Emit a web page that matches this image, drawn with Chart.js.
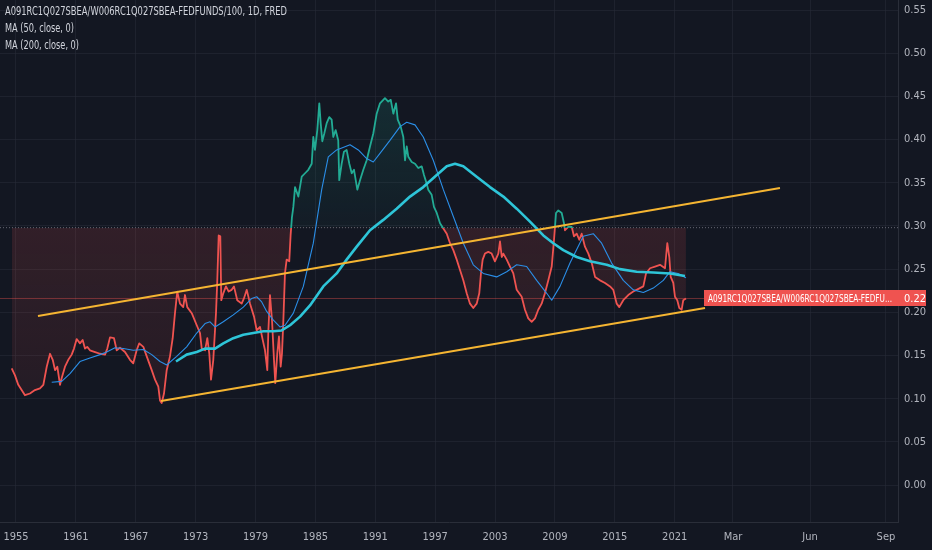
<!DOCTYPE html>
<html><head><meta charset="utf-8">
<script src="https://cdn.jsdelivr.net/npm/chart.js@4.4.1/dist/chart.umd.min.js"></script>
<style>
html,body{margin:0;padding:0;background:#131722;overflow:hidden;}
canvas{display:block;}
</style></head><body>
<canvas id="c" width="932" height="550"></canvas>
<script>
// ---------- DATA ----------
const seriesTitle = "A091RC1Q027SBEA/W006RC1Q027SBEA-FEDFUNDS/100, 1D, FRED";
const maTitles = ["MA (50, close, 0)", "MA (200, close, 0)"];

const priceYears = [1954.57,1954.90,1955.23,1955.90,1956.40,1956.90,1957.40,1957.74,1958.08,1958.41,1958.68,1958.91,1959.14,1959.41,1959.58,1959.91,1960.24,1960.58,1960.81,1961.08,1961.41,1961.68,1961.91,1962.14,1962.41,1962.92,1963.42,1963.92,1964.15,1964.42,1964.82,1965.09,1965.42,1965.92,1966.42,1966.75,1967.09,1967.35,1967.76,1968.10,1968.60,1968.93,1969.26,1969.43,1969.60,1969.83,1970.10,1970.43,1970.70,1970.93,1971.16,1971.43,1971.76,1971.93,1972.16,1972.61,1973.11,1973.44,1973.61,1973.94,1974.17,1974.37,1974.54,1974.77,1975.04,1975.17,1975.31,1975.47,1975.57,1975.77,1976.04,1976.31,1976.61,1976.84,1977.17,1977.61,1977.84,1978.12,1978.45,1978.85,1979.12,1979.45,1979.72,1979.95,1980.18,1980.28,1980.45,1980.65,1980.85,1980.98,1981.18,1981.35,1981.52,1981.65,1981.78,1981.95,1982.12,1982.38,1982.52,1982.65,1982.79,1982.96,1983.29,1983.63,1983.96,1984.29,1984.63,1984.79,1984.96,1985.19,1985.39,1985.53,1985.69,1985.89,1986.13,1986.39,1986.63,1986.79,1987.03,1987.29,1987.39,1987.63,1987.86,1988.13,1988.40,1988.64,1988.87,1989.20,1989.47,1989.80,1990.14,1990.47,1990.80,1991.14,1991.47,1991.97,1992.30,1992.55,1992.81,1993.08,1993.25,1993.55,1993.81,1993.98,1994.15,1994.31,1994.65,1994.98,1995.31,1995.65,1995.88,1996.15,1996.31,1996.65,1996.88,1997.16,1997.49,1997.82,1998.16,1998.49,1998.82,1999.16,1999.49,1999.82,2000.16,2000.49,2000.82,2001.16,2001.42,2001.59,2001.76,2001.99,2002.32,2002.66,2002.99,2003.33,2003.50,2003.67,2003.83,2004.17,2004.50,2004.83,2005.17,2005.67,2006.00,2006.33,2006.67,2007.00,2007.33,2007.67,2008.00,2008.34,2008.68,2008.91,2009.11,2009.34,2009.68,2009.91,2010.01,2010.34,2010.68,2010.91,2011.18,2011.44,2011.68,2012.01,2012.35,2012.69,2013.02,2013.52,2014.02,2014.52,2014.85,2015.19,2015.45,2015.85,2016.35,2016.85,2017.52,2017.86,2018.13,2018.53,2019.03,2019.53,2020.03,2020.26,2020.46,2020.60,2020.86,2021.03,2021.26,2021.46,2021.70,2021.86,2022.13];
const priceValues = [0.135,0.127,0.116,0.104,0.106,0.110,0.112,0.116,0.137,0.152,0.145,0.133,0.137,0.116,0.124,0.137,0.145,0.151,0.158,0.169,0.164,0.168,0.158,0.160,0.156,0.154,0.152,0.151,0.158,0.171,0.170,0.156,0.159,0.154,0.145,0.141,0.156,0.164,0.160,0.149,0.133,0.122,0.114,0.098,0.095,0.106,0.133,0.149,0.170,0.199,0.224,0.210,0.206,0.220,0.206,0.199,0.185,0.176,0.158,0.156,0.170,0.152,0.122,0.145,0.199,0.237,0.289,0.288,0.214,0.222,0.230,0.224,0.226,0.230,0.214,0.210,0.216,0.226,0.210,0.195,0.179,0.183,0.168,0.156,0.133,0.176,0.220,0.191,0.145,0.118,0.152,0.172,0.137,0.152,0.187,0.245,0.261,0.259,0.290,0.310,0.322,0.345,0.334,0.357,0.361,0.365,0.372,0.403,0.388,0.411,0.442,0.419,0.398,0.407,0.419,0.426,0.423,0.403,0.411,0.399,0.353,0.372,0.386,0.388,0.372,0.361,0.365,0.342,0.353,0.365,0.376,0.392,0.407,0.430,0.442,0.448,0.444,0.446,0.430,0.442,0.423,0.415,0.403,0.376,0.392,0.380,0.374,0.372,0.367,0.369,0.359,0.349,0.342,0.336,0.322,0.315,0.303,0.297,0.291,0.280,0.272,0.261,0.249,0.237,0.222,0.210,0.205,0.210,0.222,0.245,0.261,0.268,0.270,0.268,0.259,0.268,0.282,0.264,0.268,0.261,0.253,0.245,0.226,0.218,0.203,0.193,0.189,0.193,0.203,0.210,0.222,0.237,0.253,0.284,0.315,0.318,0.315,0.303,0.295,0.299,0.299,0.288,0.291,0.284,0.291,0.276,0.268,0.257,0.241,0.237,0.234,0.230,0.226,0.210,0.206,0.214,0.220,0.224,0.228,0.230,0.245,0.251,0.253,0.255,0.251,0.280,0.264,0.241,0.234,0.218,0.214,0.205,0.203,0.214,0.216];

const ma50Years = [1958.58,1959.58,1960.41,1961.41,1962.41,1963.42,1964.09,1964.92,1965.75,1966.75,1967.76,1968.60,1969.43,1970.10,1971.10,1972.10,1973.11,1973.94,1974.44,1974.94,1975.77,1976.77,1977.78,1978.62,1979.12,1979.62,1980.12,1980.79,1981.45,1981.96,1982.79,1983.79,1984.79,1985.63,1986.29,1987.13,1988.47,1989.30,1990.14,1990.80,1991.47,1992.47,1993.48,1994.15,1994.98,1995.81,1996.81,1997.82,1998.82,1999.82,2000.82,2001.82,2003.16,2004.17,2005.17,2006.17,2007.17,2008.18,2008.68,2009.51,2010.51,2011.84,2012.84,2013.68,2014.68,2015.85,2016.85,2017.86,2018.86,2019.86,2020.53,2021.33,2022.13];
const ma50Values = [0.119,0.120,0.129,0.143,0.147,0.151,0.154,0.159,0.158,0.156,0.157,0.151,0.143,0.139,0.149,0.160,0.176,0.187,0.189,0.183,0.189,0.197,0.206,0.216,0.218,0.212,0.201,0.191,0.183,0.185,0.199,0.230,0.280,0.342,0.380,0.388,0.394,0.388,0.378,0.374,0.384,0.399,0.415,0.420,0.417,0.403,0.376,0.342,0.311,0.280,0.255,0.245,0.241,0.247,0.255,0.253,0.237,0.222,0.214,0.230,0.257,0.288,0.291,0.280,0.257,0.237,0.226,0.223,0.228,0.237,0.247,0.245,0.240];

const ma200Years = [1971.03,1972.10,1973.11,1973.94,1974.94,1975.77,1976.77,1977.78,1978.78,1979.78,1980.79,1981.62,1982.46,1983.46,1984.46,1985.79,1987.13,1988.13,1989.14,1990.47,1991.80,1993.14,1994.48,1995.81,1997.16,1998.16,1998.99,1999.82,2001.16,2002.49,2003.83,2005.17,2006.50,2007.84,2008.84,2009.84,2011.18,2012.52,2014.19,2015.52,2017.19,2018.86,2020.53,2022.03];
const ma200Values = [0.143,0.151,0.154,0.158,0.158,0.164,0.170,0.174,0.176,0.178,0.178,0.179,0.185,0.195,0.208,0.230,0.245,0.261,0.276,0.295,0.307,0.320,0.334,0.345,0.359,0.369,0.372,0.369,0.357,0.345,0.334,0.320,0.305,0.289,0.280,0.272,0.264,0.259,0.255,0.250,0.247,0.246,0.245,0.242];

const upperTrendYears = [1957.20, 2031.55];
const upperTrendValues = [0.1957, 0.3440];
const lowerTrendYears = [1969.53, 2024.04];
const lowerTrendValues = [0.0973, 0.2050];

const baselineValue = 0.298;

const xTickValues = [1955,1961,1967,1973,1979,1985,1991,1997,2003,2009,2015,2021,2026.84,2034.56,2042.17];
const xTickLabels = ["1955","1961","1967","1973","1979","1985","1991","1997","2003","2009","2015","2021","Mar","Jun","Sep"];
const yTickValues = [0,0.05,0.10,0.15,0.20,0.25,0.30,0.35,0.40,0.45,0.50,0.55];

// ---------- BUILD ----------
const pts = (xs, ys) => xs.map((x, i) => ({x: x, y: ys[i]}));
const X_MIN = 1953.397, X_MAX = 2043.377;
const Y_MIN = -0.0428, Y_MAX = 0.5616;
const lastValue = priceValues[priceValues.length - 1];

const FONT = '"Liberation Sans Narrow", "DejaVu Sans Condensed", "Liberation Sans", sans-serif';
Chart.defaults.font.family = FONT;
Chart.defaults.font.size = 11;
Chart.defaults.color = '#b2b5be';

const GREEN = '#22ab94', RED = '#ef5350';

function lineColor(ctx) {
  const ch = ctx.chart, a = ch.chartArea;
  if (!a) return RED;
  const yb = ch.scales.y.getPixelForValue(baselineValue);
  const t = Math.min(1, Math.max(0, (yb - a.top) / (a.bottom - a.top)));
  const g = ch.ctx.createLinearGradient(0, a.top, 0, a.bottom);
  g.addColorStop(0, GREEN); g.addColorStop(t, GREEN);
  g.addColorStop(t, RED); g.addColorStop(1, RED);
  return g;
}
function fillSpec(ctx) {
  const ch = ctx.chart, a = ch.chartArea;
  if (!a) return {target: {value: baselineValue}, above: 'rgba(34,171,148,0.12)', below: 'rgba(239,83,80,0.09)'};
  const yb = ch.scales.y.getPixelForValue(baselineValue);
  const ga = ch.ctx.createLinearGradient(0, a.top, 0, yb);
  ga.addColorStop(0, 'rgba(34,171,148,0.24)');
  ga.addColorStop(1, 'rgba(34,171,148,0.04)');
  const gb = ch.ctx.createLinearGradient(0, yb, 0, a.bottom);
  gb.addColorStop(0, 'rgba(239,83,80,0.14)');
  gb.addColorStop(1, 'rgba(239,83,80,0.03)');
  return {target: {value: baselineValue}, above: ga, below: gb};
}

const overlayText = {
  id: 'overlayText',
  afterDraw(chart) {
    const c = chart.ctx;
    c.save();
    c.textBaseline = 'middle';
    c.textAlign = 'left';
    c.fillStyle = '#d1d4dc';
    c.font = '12px ' + FONT;
    c.fillText(seriesTitle, 5, 12, 282);
    c.fillText(maTitles[0], 5, 29, 69);
    c.fillText(maTitles[1], 5, 46, 74);
    // last value label
    const y = chart.scales.y.getPixelForValue(lastValue);
    c.fillStyle = RED;
    c.fillRect(704, Math.round(y) - 8, 222, 16);
    c.fillStyle = '#ffffff';
    c.font = '11px ' + FONT;
    const shortName = seriesTitle.split(',')[0].slice(0, 37) + '...';
    c.fillText(shortName, 708, y + 0.5, 184);
    c.fillText(lastValue.toFixed(2), 904, y + 0.5);
    c.restore();
  }
};

new Chart(document.getElementById('c'), {
  type: 'line',
  data: {
    datasets: [
      {label: 'upper', data: pts(upperTrendYears, upperTrendValues), borderColor: '#f5b532', borderWidth: 2, pointRadius: 0, order: 0},
      {label: 'lower', data: pts(lowerTrendYears, lowerTrendValues), borderColor: '#f5b532', borderWidth: 2, pointRadius: 0, order: 0},
      {label: maTitles[1], data: pts(ma200Years, ma200Values), borderColor: '#2ec5d8', borderWidth: 2.6, pointRadius: 0, order: 1},
      {label: maTitles[0], data: pts(ma50Years, ma50Values), borderColor: '#2b8fe8', borderWidth: 1.1, pointRadius: 0, order: 2},
      {label: seriesTitle, data: pts(priceYears, priceValues), borderColor: lineColor, borderWidth: 1.8, pointRadius: 0, fill: fillSpec, order: 3},
      {label: 'price line', data: pts([X_MIN, X_MAX], [lastValue, lastValue]), borderColor: 'rgba(239,83,80,0.4)', borderWidth: 1, pointRadius: 0, order: 4},
      {label: 'baseline', data: pts([X_MIN, X_MAX], [baselineValue, baselineValue]), borderColor: 'rgba(120,123,134,0.8)', borderWidth: 1, borderDash: [1, 2], pointRadius: 0, order: 5}
    ]
  },
  options: {
    responsive: false,
    animation: false,
    events: [],
    layout: {padding: 0},
    elements: {line: {tension: 0, borderJoinStyle: 'round'}},
    plugins: {legend: {display: false}, tooltip: {enabled: false}, title: {display: false}},
    scales: {
      x: {
        type: 'linear', position: 'bottom', min: X_MIN, max: X_MAX,
        grid: {color: 'rgba(42,46,57,0.5)', drawTicks: false},
        border: {display: true, color: '#2a2e39'},
        ticks: {
          autoSkip: false, maxRotation: 0, padding: 9, color: '#b2b5be',
          callback: (v) => { const i = xTickValues.findIndex(t => Math.abs(t - v) < 1e-6); return i >= 0 ? xTickLabels[i] : ''; }
        },
        afterBuildTicks: (s) => { s.ticks = xTickValues.map(v => ({value: v})); },
        afterFit: (s) => { s.height = 28; s.paddingLeft = 0; s.paddingRight = 0; s.paddingTop = 0; s.paddingBottom = 0; }
      },
      y: {
        type: 'linear', position: 'right', min: Y_MIN, max: Y_MAX,
        grid: {color: 'rgba(42,46,57,0.5)', drawTicks: false},
        border: {display: true, color: '#2a2e39'},
        ticks: {padding: 6, color: '#b2b5be', callback: (v) => Number(v).toFixed(2)},
        afterBuildTicks: (s) => { s.ticks = yTickValues.map(v => ({value: v})); },
        afterFit: (s) => { s.width = 34; s.paddingLeft = 0; s.paddingRight = 0; s.paddingTop = 0; s.paddingBottom = 0; }
      }
    }
  },
  plugins: [overlayText]
});
</script>
</body></html>
